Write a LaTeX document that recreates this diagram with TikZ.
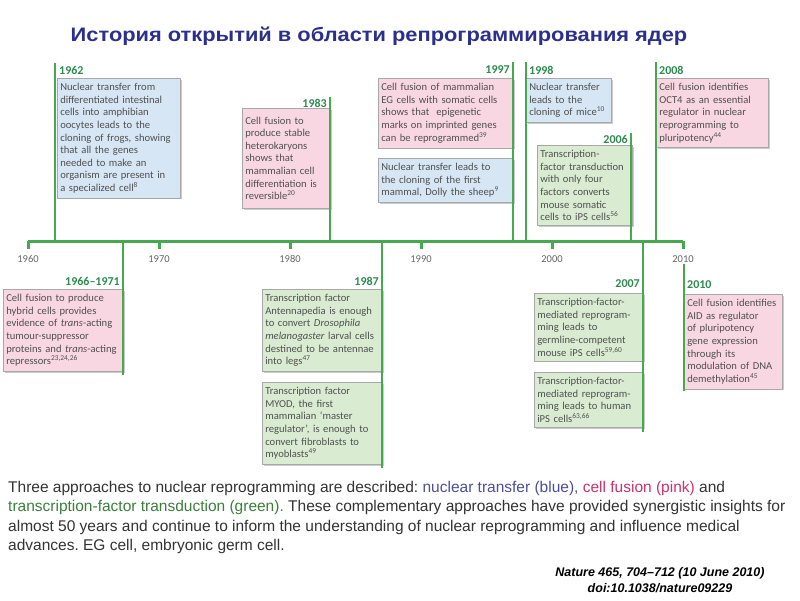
\documentclass[tikz,border=0pt]{standalone}
\usepackage{fontspec}
\setmainfont{Liberation Sans}
\newfontfamily\boxfont{Carlito}
\newfontfamily\titlefont{Liberation Sans Bold}[FakeStretch=1.12]
\usetikzlibrary{shadows}
\frenchspacing
\definecolor{tlgreen}{RGB}{70,168,79}
\definecolor{yrgreen}{RGB}{46,139,80}
\definecolor{bluefill}{RGB}{215,230,244}
\definecolor{pinkfill}{RGB}{248,215,227}
\definecolor{greenfill}{RGB}{217,236,210}
\definecolor{boxtext}{RGB}{80,80,80}
\definecolor{boxline}{RGB}{168,168,168}
\definecolor{titleblue}{RGB}{44,47,140}
\definecolor{captext}{RGB}{51,51,51}
\definecolor{capblue}{RGB}{77,77,158}
\definecolor{cappink}{RGB}{200,51,110}
\definecolor{capgreen}{RGB}{59,127,59}
\begin{document}
\begin{tikzpicture}[x=1pt,y=-1pt,
	axis/.style={line width=3pt,tlgreen},
	ev/.style={line width=1.8pt,tlgreen},
	yr/.style={font=\fontsize{10.5}{12}\boxfont,text=black!60},
	evyr/.style={font=\fontsize{12}{14}\boxfont\bfseries,text=yrgreen,inner sep=1pt},
	box/.style={anchor=north west,draw=boxline,line width=0.6pt,inner xsep=3pt,inner ysep=5pt,
		align=left,font=\fontsize{10.6}{12.6}\boxfont,text=boxtext,
		drop shadow={shadow xshift=1.2pt,shadow yshift=-1.2pt,fill=black!40}},
	nt/.style={box,fill=bluefill},
	cf/.style={box,fill=pinkfill},
	tf/.style={box,fill=greenfill}]
	\fill[white] (0,0) rectangle (800,600);
	\useasboundingbox (0,0) rectangle (800,600);
	\node[anchor=base,inner sep=0pt,font=\fontsize{19.5}{22}\titlefont,text=titleblue] (title) at (379,41.5)
		{История открытий в области репрограммирования ядер};
	% boxes above the axis
	\node[nt,text width=117pt] (b62) at (57,78) {Nuclear transfer from\\ differentiated intestinal\\ cells into amphibian\\ oocytes leads to the\\ cloning of frogs, showing\\ that all the genes\\ needed to make an\\ organism are present in\\ a specialized cell\textsuperscript{8}};
	\node[cf,text width=82pt,minimum height=100pt] (b83) at (242,108) {Cell fusion to\\ produce stable\\ heterokaryons\\ shows that\\ mammalian cell\\ differentiation is\\ reversible\textsuperscript{20}};
	\node[cf,text width=129pt] (b97a) at (378,78) {Cell fusion of mammalian\\ EG cells with somatic cells\\ shows that\ \ epigenetic\\ marks on imprinted genes\\ can be reprogrammed\textsuperscript{39}};
	\node[nt,text width=129pt] (b97b) at (378,158) {Nuclear transfer leads to\\ the cloning of the first\\ mammal, Dolly the sheep\textsuperscript{9}};
	\node[nt,text width=79pt] (b98) at (526,78) {Nuclear transfer\\ leads to the\\ cloning of mice\textsuperscript{10}};
	\node[tf,text width=89pt] (b06) at (537,145) {Transcription-\\ factor transduction\\ with only four\\ factors converts\\ mouse somatic\\ cells to iPS cells\textsuperscript{56}};
	\node[cf,text width=106pt] (b08) at (656,78) {Cell fusion identifies\\ OCT4 as an essential\\ regulator in nuclear\\ reprogramming to\\ pluripotency\textsuperscript{44}};
	% boxes below the axis
	\node[cf,text width=114pt] (b66) at (3,289) {Cell fusion to produce\\ hybrid cells provides\\ evidence of \textit{trans}-acting\\ tumour-suppressor\\ proteins and \textit{trans}-acting\\ repressors\textsuperscript{23,24,26}};
	\node[tf,text width=114pt] (b87a) at (262,289) {Transcription factor\\ Antennapedia is enough\\ to convert \textit{Drosophila}\\ \textit{melanogaster} larval cells\\ destined to be antennae\\ into legs\textsuperscript{47}};
	\node[tf,text width=114pt] (b87b) at (262,382) {Transcription factor\\ MYOD, the first\\ mammalian ‘master\\ regulator’, is enough to\\ convert fibroblasts to\\ myoblasts\textsuperscript{49}};
	\node[tf,text width=103pt] (b07a) at (534,293) {Transcription-factor-\\ mediated reprogram-\\ ming leads to\\ germline-competent\\ mouse iPS cells\textsuperscript{59,60}};
	\node[tf,text width=103pt] (b07b) at (534,372) {Transcription-factor-\\ mediated reprogram-\\ ming leads to human\\ iPS cells\textsuperscript{63,66}};
	\node[cf,text width=92pt] (b10) at (684,294) {Cell fusion identifies\\ AID as regulator\\ of pluripotency\\ gene expression\\ through its\\ modulation of DNA\\ demethylation\textsuperscript{45}};
	% axis and decades
	\coordinate (ax0) at (28,241);
	\coordinate (ax1) at (683,241);
	\draw[axis] (ax0) -- (ax1);
	\foreach \yr in {1960,1970,...,2010} {
		\node[yr] (y\yr) at ({28+13.1*(\yr-1960)},259) {\yr};
		\draw[axis] (y\yr |- ax0) -- ++(0,8);
	}
	% event lines
	\coordinate (t62) at (55,63);
	\coordinate (t83) at (330,97);
	\coordinate (t97) at (513,62);
	\coordinate (t98) at (526,62);
	\coordinate (t06) at (631,133);
	\coordinate (t08) at (656,62);
	\coordinate (t66) at (123,375);
	\coordinate (t87) at (382,468);
	\coordinate (t07) at (643,432);
	\coordinate (t10) at (684,391);
	\coordinate (s10) at (684,264);
	\draw[ev] (t62) -- (t62 |- ax0);
	\draw[ev] (t83) -- (t83 |- ax0);
	\draw[ev] (t97) -- (t97 |- ax0);
	\draw[ev] (t98) -- (t98 |- ax0);
	\draw[ev] (t06) -- (t06 |- ax0);
	\draw[ev] (t08) -- (t08 |- ax0);
	\draw[ev] (t66 |- ax0) -- (t66);
	\draw[ev] (t87 |- ax0) -- (t87);
	\draw[ev] (t07 |- ax0) -- (t07);
	\draw[ev] (s10) -- (t10);
	% event years
	\node[evyr,anchor=west] (l62) at (58,70) {1962};
	\node[evyr,anchor=east] (l83) at (328,103) {1983};
	\node[evyr,anchor=east] (l97) at (511,70) {1997};
	\node[evyr,anchor=west] (l98) at (528,70) {1998};
	\node[evyr,anchor=east] (l06) at (629,139) {2006};
	\node[evyr,anchor=west] (l08) at (658,70) {2008};
	\node[evyr,anchor=east] (l66) at (121,281) {1966–1971};
	\node[evyr,anchor=east] (l87) at (380,281) {1987};
	\node[evyr,anchor=east] (l07) at (641,284) {2007};
	\node[evyr,anchor=west] (l10) at (686,285) {2010};
	% caption and source
	\node[anchor=north west,align=left,inner sep=0pt,text=captext,font=\fontsize{15.5}{19.5}\selectfont] (cap) at (8,481)
		{Three approaches to nuclear reprogramming are described: \textcolor{capblue}{nuclear transfer (blue),} \textcolor{cappink}{cell fusion (pink)} and\\
		\textcolor{capgreen}{transcription-factor transduction (green).} These complementary approaches have provided synergistic insights for\\
		almost 50 years and continue to inform the understanding of nuclear reprogramming and influence medical\\
		advances. EG cell, embryonic germ cell.};
	\node[align=center,font=\fontsize{12.5}{16}\selectfont\bfseries\itshape] (src) at (660,580)
		{Nature 465, 704–712 (10 June 2010)\\ doi:10.1038/nature09229};
\end{tikzpicture}
\end{document}
